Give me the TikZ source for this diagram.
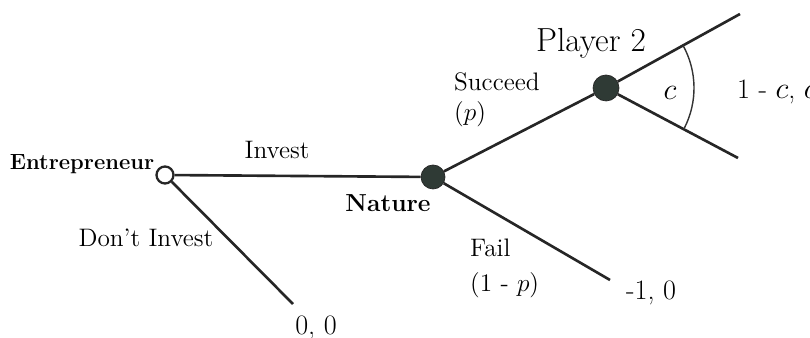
\documentclass[tikz,border=0pt]{standalone}
\usepackage{tikz}
\usetikzlibrary{positioning}
\usepackage{xcolor}
\definecolor{nodefill}{HTML}{2F3A35}

\begin{document}
\begin{tikzpicture}[
  branch/.style={line width=1.5pt, draw=black!85},
  chance/.style={circle, draw=black!85, fill=nodefill, inner sep=0pt, minimum size=0.48cm},
  choice/.style={circle, draw=black!85, line width=1.3pt, fill=white, inner sep=0pt, minimum size=0.34cm},
  lbl/.style={font=\Large},
  big/.style={font=\fontsize{16}{18}\selectfont},
  who/.style={font=\fontsize{12.5}{15}\selectfont\bfseries}
]
  \useasboundingbox (0,0) rectangle (16.2,6.76);

  % Decision points
  \node[choice] (ent) at (3.30, 3.26) {};
  \node[chance] (nat) at (8.66, 3.22) {};
  \node[chance, minimum size=0.52cm] (pl2) at (12.12, 5.00) {};

  % Ends of the branches
  \coordinate (up) at (14.80, 6.48);
  \coordinate (lo) at (14.76, 3.60);
  \coordinate (failend) at (12.20, 1.16);
  \coordinate (dontend) at (5.86, 0.68);

  % Branches
  \draw[branch] (ent) -- (nat);
  \draw[branch] (ent) -- (dontend);
  \draw[branch] (nat) -- (pl2);
  \draw[branch] (nat) -- (failend);
  \draw[branch] (pl2) -- (up);
  \draw[branch] (pl2) -- (lo);
  \draw[line width=0.8pt, black!80] (pl2.center) ++(29:1.76) arc[start angle=29, end angle=-27, radius=1.76];

  % Players
  \node[who] (entlbl) at (1.64, 3.48) {Entrepreneur};
  \node[who, font=\fontsize{14}{16}\selectfont\bfseries] (natlbl) at (7.76, 2.70) {Nature};
  \node[big, font=\fontsize{19}{22}\selectfont] (pl2lbl) at (11.82, 5.90) {Player 2};

  % Moves
  \node[lbl] (invest) at (5.54, 3.76) {Invest};
  \node[lbl] (dont) at (2.92, 2.00) {Don't Invest};
  \node[lbl, anchor=west] (succ) at (8.96, 5.12) {Succeed};
  \node[lbl, anchor=west] (succp) at (8.96, 4.48) {($p$)};
  \node[lbl, anchor=west] (fail) at (9.28, 1.80) {Fail};
  \node[lbl, anchor=west] (failp) at (9.28, 1.06) {(1 - $p$)};
  \node[big] (share) at (13.40, 4.90) {$c$};

  % Payoffs
  \node[big] (pay0) at (6.32, 0.20) {0, 0};
  \node[big, anchor=west] (payfail) at (12.40, 0.90) {-1, 0};
  \node[big, anchor=west] (payp2) at (14.62, 4.92) {1 - $c$, $c$};
\end{tikzpicture}
\end{document}
